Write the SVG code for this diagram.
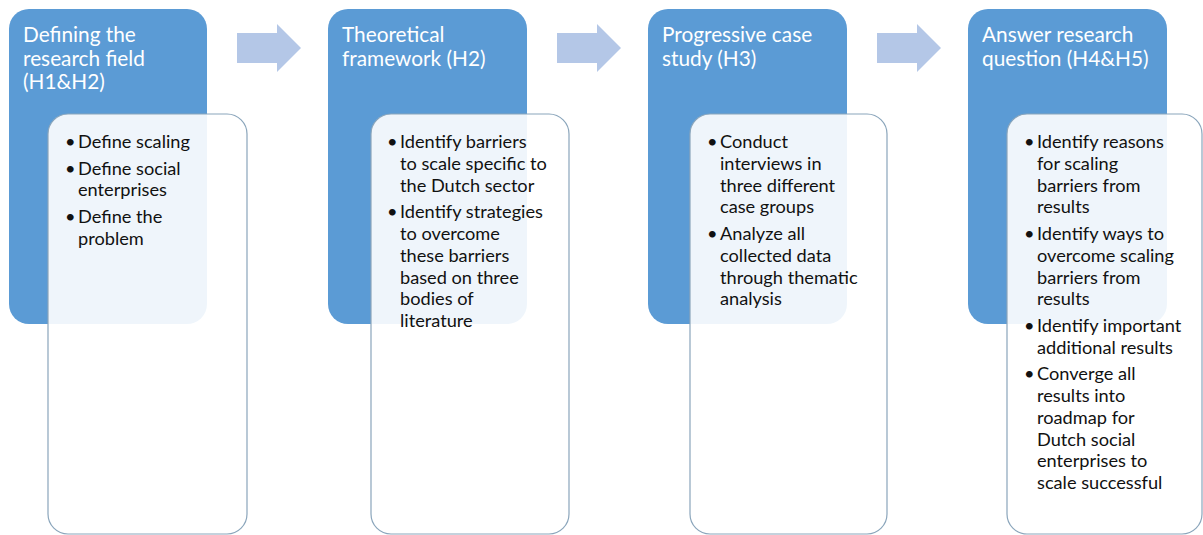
<svg xmlns="http://www.w3.org/2000/svg" width="1203" height="535" viewBox="0 0 1203 535">
<style>
.hdr{fill:#5b9bd5}
.pnl{fill:#ffffff;fill-opacity:0.9;stroke:#8aa5bb;stroke-width:1.2}
.arr{fill:#b4c7e7}
.t{font-family:Lato,"Liberation Sans",sans-serif;font-size:20.8px;fill:#ffffff}
.b{font-family:Lato,"Liberation Sans",sans-serif;font-size:18.2px;fill:#111111}
</style>
<rect width="1203" height="535" fill="#ffffff"/>
<g id="connectors">
<path class="arr" d="M237,33 H277 V24 L301,48 L277,72 V63 H237 Z"/>
<path class="arr" d="M557,33 H597 V24 L621,48 L597,72 V63 H557 Z"/>
<path class="arr" d="M877,33 H917 V24 L941,48 L917,72 V63 H877 Z"/>
</g>
<g id="node1">
<rect class="hdr" x="9" y="9" width="198" height="315" rx="20"/>
<text class="t"><tspan x="23" y="42">Defining the</tspan><tspan x="23" y="65.5">research field</tspan><tspan x="23" y="89">(H1&amp;H2)</tspan></text>
<rect class="pnl" x="48" y="114" width="199" height="420" rx="20"/>
<text class="b"><tspan x="65" y="148">•</tspan><tspan x="78" y="148">Define scaling</tspan><tspan x="65" y="174.5">•</tspan><tspan x="78" y="174.5">Define social</tspan><tspan x="78" y="196.3">enterprises</tspan><tspan x="65" y="222.8">•</tspan><tspan x="78" y="222.8">Define the</tspan><tspan x="78" y="244.6">problem</tspan></text>
</g>
<g id="node2">
<rect class="hdr" x="328" y="9" width="199" height="315" rx="20"/>
<text class="t"><tspan x="342" y="42">Theoretical</tspan><tspan x="342" y="65.5">framework (H2)</tspan></text>
<rect class="pnl" x="371" y="114" width="198" height="420" rx="20"/>
<text class="b"><tspan x="387" y="148">•</tspan><tspan x="400" y="148">Identify barriers</tspan><tspan x="400" y="169.8">to scale specific to</tspan><tspan x="400" y="191.6">the Dutch sector</tspan><tspan x="387" y="218.1">•</tspan><tspan x="400" y="218.1">Identify strategies</tspan><tspan x="400" y="239.9">to overcome</tspan><tspan x="400" y="261.7">these barriers</tspan><tspan x="400" y="283.5">based on three</tspan><tspan x="400" y="305.3">bodies of</tspan><tspan x="400" y="327.1">literature</tspan></text>
</g>
<g id="node3">
<rect class="hdr" x="648" y="9" width="199" height="315" rx="20"/>
<text class="t"><tspan x="662" y="42">Progressive case</tspan><tspan x="662" y="65.5">study (H3)</tspan></text>
<rect class="pnl" x="690" y="114" width="197" height="420" rx="20"/>
<text class="b"><tspan x="707" y="148">•</tspan><tspan x="720" y="148">Conduct</tspan><tspan x="720" y="169.8">interviews in</tspan><tspan x="720" y="191.6">three different</tspan><tspan x="720" y="213.4">case groups</tspan><tspan x="707" y="239.9">•</tspan><tspan x="720" y="239.9">Analyze all</tspan><tspan x="720" y="261.7">collected data</tspan><tspan x="720" y="283.5">through thematic</tspan><tspan x="720" y="305.3">analysis</tspan></text>
</g>
<g id="node4">
<rect class="hdr" x="968" y="9" width="199" height="315" rx="20"/>
<text class="t"><tspan x="982" y="42">Answer research</tspan><tspan x="982" y="65.5">question (H4&amp;H5)</tspan></text>
<rect class="pnl" x="1007" y="114" width="195" height="420" rx="20"/>
<text class="b"><tspan x="1024" y="148">•</tspan><tspan x="1037" y="148">Identify reasons</tspan><tspan x="1037" y="169.8">for scaling</tspan><tspan x="1037" y="191.6">barriers from</tspan><tspan x="1037" y="213.4">results</tspan><tspan x="1024" y="239.9">•</tspan><tspan x="1037" y="239.9">Identify ways to</tspan><tspan x="1037" y="261.7">overcome scaling</tspan><tspan x="1037" y="283.5">barriers from</tspan><tspan x="1037" y="305.3">results</tspan><tspan x="1024" y="331.8">•</tspan><tspan x="1037" y="331.8">Identify important</tspan><tspan x="1037" y="353.6">additional results</tspan><tspan x="1024" y="380.1">•</tspan><tspan x="1037" y="380.1">Converge all</tspan><tspan x="1037" y="401.9">results into</tspan><tspan x="1037" y="423.7">roadmap for</tspan><tspan x="1037" y="445.5">Dutch social</tspan><tspan x="1037" y="467.3">enterprises to</tspan><tspan x="1037" y="489.1">scale successful</tspan></text>
</g>
</svg>
